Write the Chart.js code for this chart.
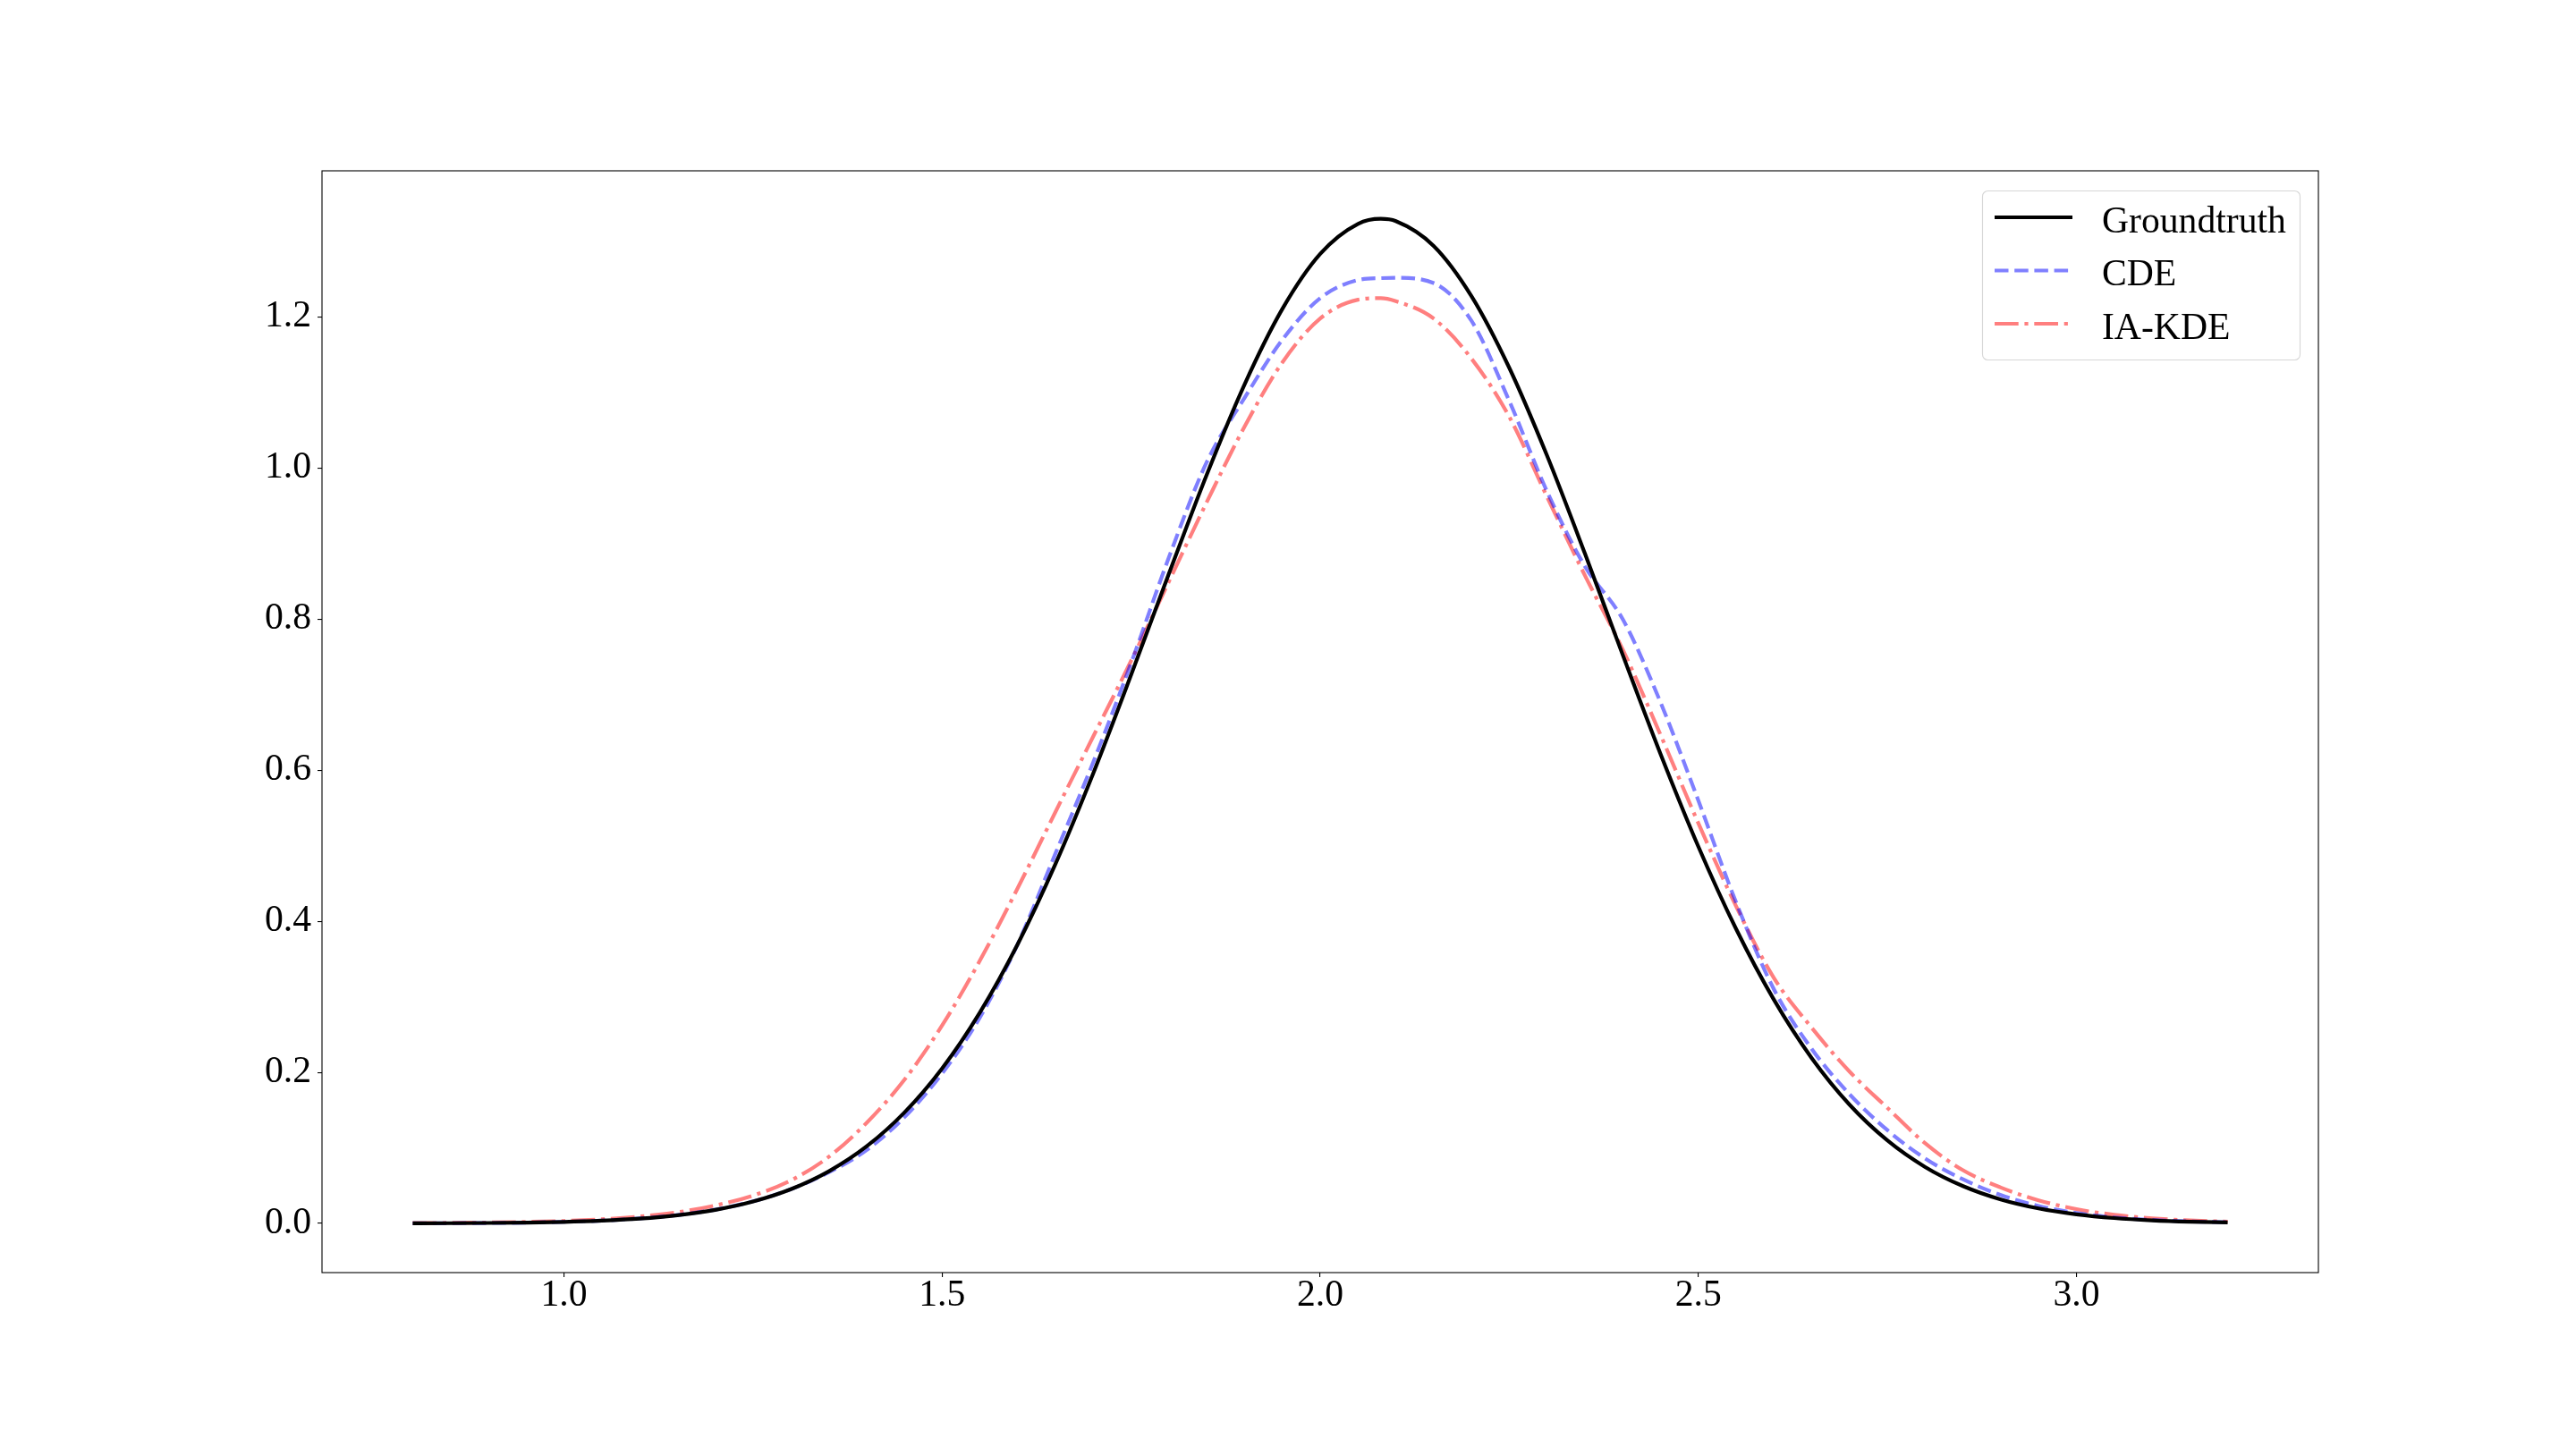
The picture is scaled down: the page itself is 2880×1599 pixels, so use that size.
<!DOCTYPE html>
<html>
<head>
<meta charset="utf-8">
<script src="https://cdn.jsdelivr.net/npm/chart.js@4.4.1/dist/chart.umd.min.js"></script>
<style>
  body { margin: 0; background: #fff; }
  canvas { display: block; }
</style>
</head>
<body>
<canvas id="kde-chart" width="2880" height="1599"></canvas>
<script>
// x grid the curves were read on
var xs = [0.80, 0.85, 0.90, 0.95, 1.00, 1.05, 1.10, 1.15, 1.20, 1.25,
          1.30, 1.35, 1.40, 1.45, 1.50, 1.55, 1.60, 1.65, 1.70, 1.75,
          1.80, 1.85, 1.90, 1.95, 2.00, 2.05, 2.08, 2.10, 2.15, 2.20,
          2.25, 2.30, 2.35, 2.40, 2.45, 2.50, 2.55, 2.60, 2.65, 2.70,
          2.75, 2.80, 2.85, 2.90, 2.95, 3.00, 3.05, 3.10, 3.15, 3.20];

var groundtruth = [0.0002, 0.0003, 0.0006, 0.0011, 0.0020, 0.0037, 0.0064, 0.0109, 0.0180, 0.0290,
                   0.0453, 0.0689, 0.1019, 0.1467, 0.2052, 0.2793, 0.3697, 0.4761, 0.5962, 0.7263,
                   0.8604, 0.9914, 1.1109, 1.2108, 1.2836, 1.3234, 1.3300, 1.3270, 1.2942, 1.2277,
                   1.1328, 1.0164, 0.8871, 0.7529, 0.6217, 0.4991, 0.3898, 0.2961, 0.2188, 0.1572,
                   0.1099, 0.0747, 0.0494, 0.0317, 0.0198, 0.0121, 0.0071, 0.0041, 0.0023, 0.0013];

var cde = [0.0002, 0.0003, 0.0006, 0.0011, 0.0021, 0.0038, 0.0066, 0.0111, 0.0183, 0.0293,
           0.0452, 0.0675, 0.0970, 0.1405, 0.1985, 0.2727, 0.3700, 0.4900, 0.6110, 0.7420,
           0.8820, 1.0080, 1.0930, 1.1700, 1.2250, 1.2490, 1.2515, 1.2520, 1.2450, 1.1950,
           1.0890, 0.9690, 0.8700, 0.8000, 0.6900, 0.5600, 0.4250, 0.3100, 0.2310, 0.1710,
           0.1235, 0.0860, 0.0584, 0.0375, 0.0232, 0.0139, 0.0080, 0.0046, 0.0026, 0.0015];

var iaKde = [0.0004, 0.0007, 0.0012, 0.0020, 0.0033, 0.0055, 0.0092, 0.0148, 0.0238, 0.0370,
             0.0570, 0.0880, 0.1330, 0.1900, 0.2620, 0.3480, 0.4440, 0.5450, 0.6450, 0.7450,
             0.8500, 0.9550, 1.0550, 1.1400, 1.1980, 1.2230, 1.2250, 1.2210, 1.1980, 1.1450,
             1.0680, 0.9620, 0.8580, 0.7600, 0.6470, 0.5300, 0.4200, 0.3250, 0.2590, 0.2010,
             0.1530, 0.1060, 0.0704, 0.0475, 0.0306, 0.0189, 0.0115, 0.0068, 0.0040, 0.0024];

var xTicks = [1.0, 1.5, 2.0, 2.5, 3.0];
var yTicks = [0.0, 0.2, 0.4, 0.6, 0.8, 1.0, 1.2];

function pairs(ys) {
  return xs.map(function(x, i) { return {x: x, y: ys[i]}; });
}

var serif = "'Liberation Serif', 'Times New Roman', serif";
Chart.defaults.font.family = serif;
Chart.defaults.color = '#000';

// box around the axes + matplotlib style legend in the upper right
var frameAndLegend = {
  id: 'frameAndLegend',
  afterDraw: function(chart) {
    var ctx = chart.ctx, a = chart.chartArea;
    ctx.save();
    ctx.strokeStyle = '#000';
    ctx.lineWidth = 1.1;
    ctx.strokeRect(a.left, a.top, a.right - a.left, a.bottom - a.top);

    var bx = a.right - 376, by = a.top + 22, bw = 355, bh = 189;
    ctx.beginPath();
    ctx.roundRect(bx + 0.5, by + 0.5, bw, bh, 6);
    ctx.fillStyle = 'rgba(255,255,255,0.8)';
    ctx.fill();
    ctx.strokeStyle = 'rgba(204,204,204,0.8)';
    ctx.lineWidth = 1.1;
    ctx.stroke();

    chart.data.datasets.forEach(function(ds, i) {
      var y = by + 30 + i * 59.5;
      ctx.beginPath();
      ctx.setLineDash(ds.borderDash || []);
      ctx.strokeStyle = ds.borderColor;
      ctx.lineWidth = ds.borderWidth;
      ctx.moveTo(bx + 14, y);
      ctx.lineTo(bx + 101, y);
      ctx.stroke();
      ctx.setLineDash([]);
      ctx.fillStyle = '#000';
      ctx.font = '41.67px ' + serif;
      ctx.textBaseline = 'alphabetic';
      ctx.textAlign = 'left';
      ctx.fillText(ds.label, bx + 134, y + 16.7);
    });
    ctx.restore();
  }
};

new Chart(document.getElementById("kde-chart"), {
    type: 'line',
    data: {
      datasets: [
        {
          label: "Groundtruth",
          data: pairs(groundtruth),
          borderColor: '#000000',
          borderWidth: 4.2
        },
        {
          label: "CDE",
          data: pairs(cde),
          borderColor: 'rgba(0,0,255,0.5)',
          borderWidth: 4.2,
          borderDash: [15.5, 6.7]
        },
        {
          label: "IA-KDE",
          data: pairs(iaKde),
          borderColor: 'rgba(255,0,0,0.5)',
          borderWidth: 4.2,
          borderDash: [26.7, 6.7, 4.2, 6.7]
        }
      ]
    },
    options: {
        animation: false,
        responsive: false,
        layout: {
            padding: {top: 191, right: 288, left: 0, bottom: 0}
        },
        elements: {
            point: {radius: 0, hoverRadius: 0},
            line: {cubicInterpolationMode: 'monotone', fill: false}
        },
        plugins: {
            legend: {display: false},
            tooltip: {enabled: false}
        },
        scales: {
            x: {
                type: 'linear',
                min: 0.68,
                max: 3.32,
                afterBuildTicks: function(scale) {
                    scale.ticks = xTicks.map(function(v) { return {value: v}; });
                },
                afterFit: function(scale) { scale.height = 176; },
                border: {display: false},
                grid: {
                    drawOnChartArea: false,
                    drawTicks: true,
                    tickLength: 5,
                    color: '#000',
                    lineWidth: 1.1
                },
                ticks: {
                    padding: 0,
                    maxRotation: 0,
                    autoSkip: false,
                    color: '#000',
                    font: {size: 41.67, lineHeight: 1},
                    callback: function(v) { return Number(v).toFixed(1); }
                }
            },
            y: {
                type: 'linear',
                min: -0.0651,
                max: 1.3936,
                afterBuildTicks: function(scale) {
                    scale.ticks = yTicks.map(function(v) { return {value: v}; });
                },
                afterFit: function(scale) { scale.width = 360; },
                border: {display: false},
                grid: {
                    drawOnChartArea: false,
                    drawTicks: true,
                    tickLength: 5,
                    color: '#000',
                    lineWidth: 1.1
                },
                ticks: {
                    padding: 7,
                    autoSkip: false,
                    color: '#000',
                    font: {size: 41.67, lineHeight: 1},
                    callback: function(v) { return Number(v).toFixed(1); }
                }
            }
        }
    },
    plugins: [frameAndLegend]
});
</script>
</body>
</html>
